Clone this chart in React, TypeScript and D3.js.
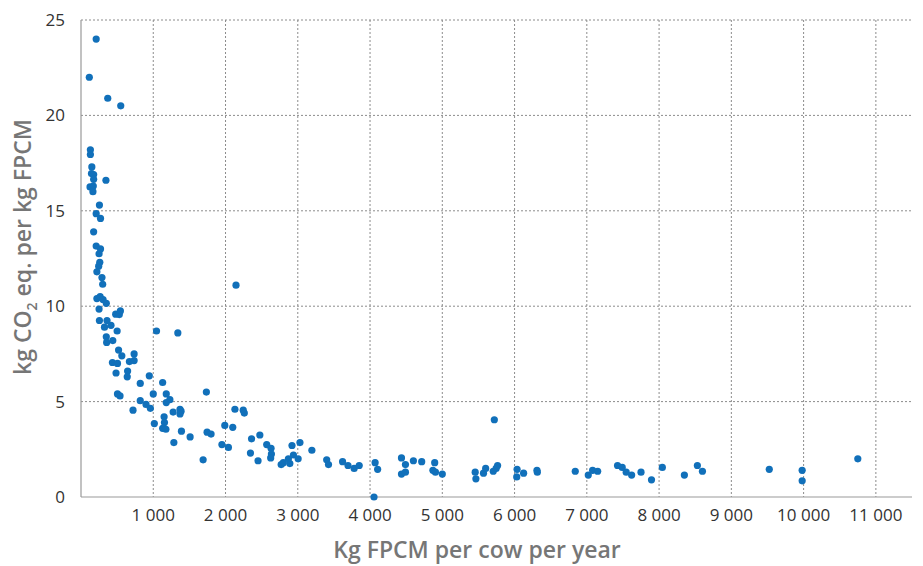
import { useMemo } from "react";
import * as d3 from "d3";

const WIDTH = 923;
const HEIGHT = 566;
const MARGIN = { top: 20, right: 11, bottom: 69, left: 81 };

// Kg FPCM per cow per year
const milkYield = [
  210, 115, 370, 550, 130, 130, 150, 145, 175, 175, 345, 125, 170, 165, 255, 210,
  270, 175, 210, 270, 250, 260, 245, 220, 290, 300, 220, 265, 305, 350, 250, 480,
  530, 545, 255, 360, 325, 415, 500, 350, 355, 440, 1045, 1340, 520, 565, 435, 505,
  670, 735, 735, 645, 485, 640, 945, 820, 1130, 505, 540, 1735, 820, 900, 960, 1000,
  720, 1180, 1230, 1180, 1150, 1275, 1370, 1385, 1370, 1015, 1155, 1130, 1175, 1390,
  1510, 1285, 1745, 1800, 1690, 1990, 2100, 2130, 2245, 2260, 1950, 2040, 2360, 2475,
  2345, 2450, 2145, 2570, 2630, 2635, 2625, 2920, 3030, 2770, 2800, 2870, 2890, 2940,
  3005, 3195, 3400, 3425, 3620, 3695, 3780, 3850, 4070, 4105, 4055, 4435, 4490, 4435,
  4490, 4600, 4715, 4895, 4870, 4905, 5000, 5720, 5455, 5465, 5570, 5600, 5705, 5745,
  5765, 6035, 6030, 6125, 6310, 6315, 6840, 7020, 7080, 7150, 7425, 7490, 7545, 7620,
  7750, 7895, 8045, 8350, 8530, 8600, 9525, 9980, 9980, 10750,
];

// kg CO2 eq. per kg FPCM
const emissionIntensity = [
  24.0, 22.0, 20.9, 20.5, 18.2, 17.95, 17.3, 16.95, 16.9, 16.65, 16.6, 16.25, 16.3,
  16.0, 15.3, 14.85, 14.6, 13.9, 13.15, 13.0, 12.75, 12.3, 12.1, 11.8, 11.5, 11.15,
  10.4, 10.5, 10.35, 10.15, 9.85, 9.58, 9.56, 9.75, 9.25, 9.25, 8.9, 9.0, 8.7, 8.4,
  8.1, 8.2, 8.7, 8.6, 7.7, 7.4, 7.05, 7.0, 7.1, 7.15, 7.5, 6.6, 6.5, 6.3, 6.35, 5.95,
  6.0, 5.4, 5.3, 5.5, 5.05, 4.85, 4.65, 5.4, 4.55, 5.4, 5.1, 4.95, 4.2, 4.45, 4.6,
  4.5, 4.35, 3.85, 3.9, 3.6, 3.55, 3.45, 3.15, 2.85, 3.4, 3.3, 1.95, 3.75, 3.65, 4.6,
  4.55, 4.4, 2.75, 2.6, 3.05, 3.25, 2.3, 1.9, 11.1, 2.75, 2.55, 2.25, 2.05, 2.7, 2.85,
  1.7, 1.8, 2.0, 1.75, 2.2, 2.0, 2.45, 1.95, 1.7, 1.85, 1.65, 1.5, 1.65, 1.8, 1.45,
  0.0, 2.05, 1.7, 1.2, 1.3, 1.9, 1.85, 1.8, 1.4, 1.3, 1.2, 4.05, 1.3, 0.95, 1.25, 1.5,
  1.35, 1.5, 1.65, 1.45, 1.05, 1.25, 1.4, 1.3, 1.35, 1.15, 1.4, 1.35, 1.65, 1.55, 1.3,
  1.15, 1.3, 0.9, 1.55, 1.15, 1.65, 1.35, 1.45, 1.4, 0.85, 2.0,
];

const xTicks = [1000, 2000, 3000, 4000, 5000, 6000, 7000, 8000, 9000, 10000, 11000];
const yTicks = [0, 5, 10, 15, 20, 25];

const FONT = "'Open Sans', 'Noto Sans', sans-serif";

const formatThousands = d3.formatLocale({
  decimal: ".",
  thousands: "\u00a0",
  grouping: [3],
  currency: ["", ""],
}).format(",");

const App = () => {
  const boundsWidth = WIDTH - MARGIN.left - MARGIN.right;
  const boundsHeight = HEIGHT - MARGIN.top - MARGIN.bottom;

  const xScale = useMemo(
    () => d3.scaleLinear().domain([0, 11500]).range([0, boundsWidth]),
    [boundsWidth]
  );
  const yScale = useMemo(
    () => d3.scaleLinear().domain([0, 25]).range([boundsHeight, 0]),
    [boundsHeight]
  );

  const points = milkYield.map((x, i) => ({ x, y: emissionIntensity[i] }));

  return (
    <svg
      width={WIDTH}
      height={HEIGHT}
      style={{ display: "block", position: "absolute", left: 0, top: 0, background: "#fff" }}
      fontFamily={FONT}
    >
      <g transform={`translate(${MARGIN.left},${MARGIN.top})`}>
        {/* grid */}
        {yTicks
          .filter((t) => t > 0)
          .map((t) => (
            <line
              key={"gy" + t}
              x1={0}
              x2={boundsWidth}
              y1={yScale(t)}
              y2={yScale(t)}
              stroke="#8c8c8c"
              strokeDasharray="2,2"
              strokeWidth={1}
            />
          ))}
        {xTicks.map((t) => (
          <line
            key={"gx" + t}
            x1={xScale(t)}
            x2={xScale(t)}
            y1={0}
            y2={boundsHeight}
            stroke="#8c8c8c"
            strokeDasharray="2,2"
            strokeWidth={1}
          />
        ))}

        {/* axes */}
        <line x1={0} x2={0} y1={0} y2={boundsHeight} stroke="#999" strokeWidth={1.2} />
        <line
          x1={0}
          x2={boundsWidth}
          y1={boundsHeight}
          y2={boundsHeight}
          stroke="#999"
          strokeWidth={1.2}
        />

        {/* tick labels */}
        {yTicks.map((t) => (
          <text
            key={"ty" + t}
            x={-16}
            y={yScale(t)}
            dy="0.35em"
            textAnchor="end"
            fontSize={17}
            fill="#333"
          >
            {t}
          </text>
        ))}
        {xTicks.map((t) => (
          <text
            key={"tx" + t}
            x={xScale(t)}
            y={boundsHeight + 18}
            dy="0.35em"
            textAnchor="middle"
            fontSize={17}
            fill="#333"
          >
            {formatThousands(t)}
          </text>
        ))}

        {/* points */}
        {points.map((d, i) => (
          <circle key={i} cx={xScale(d.x)} cy={yScale(d.y)} r={3.6} fill="#1170ba" />
        ))}
      </g>

      {/* axis titles */}
      <text
        x={477}
        y={550}
        dy="0.35em"
        textAnchor="middle"
        fontSize={23}
        fontWeight={600}
        fill="#767676"
      >
        Kg FPCM per cow per year
      </text>
      <text
        transform={`translate(23,247) rotate(-90)`}
        dy="0.35em"
        textAnchor="middle"
        fontSize={23}
        fontWeight={600}
        fill="#767676"
      >
        kg CO
        <tspan fontSize={14} dy="6">
          2
        </tspan>
        <tspan dy="-6"> eq. per kg FPCM</tspan>
      </text>
    </svg>
  );
};

export default App;
